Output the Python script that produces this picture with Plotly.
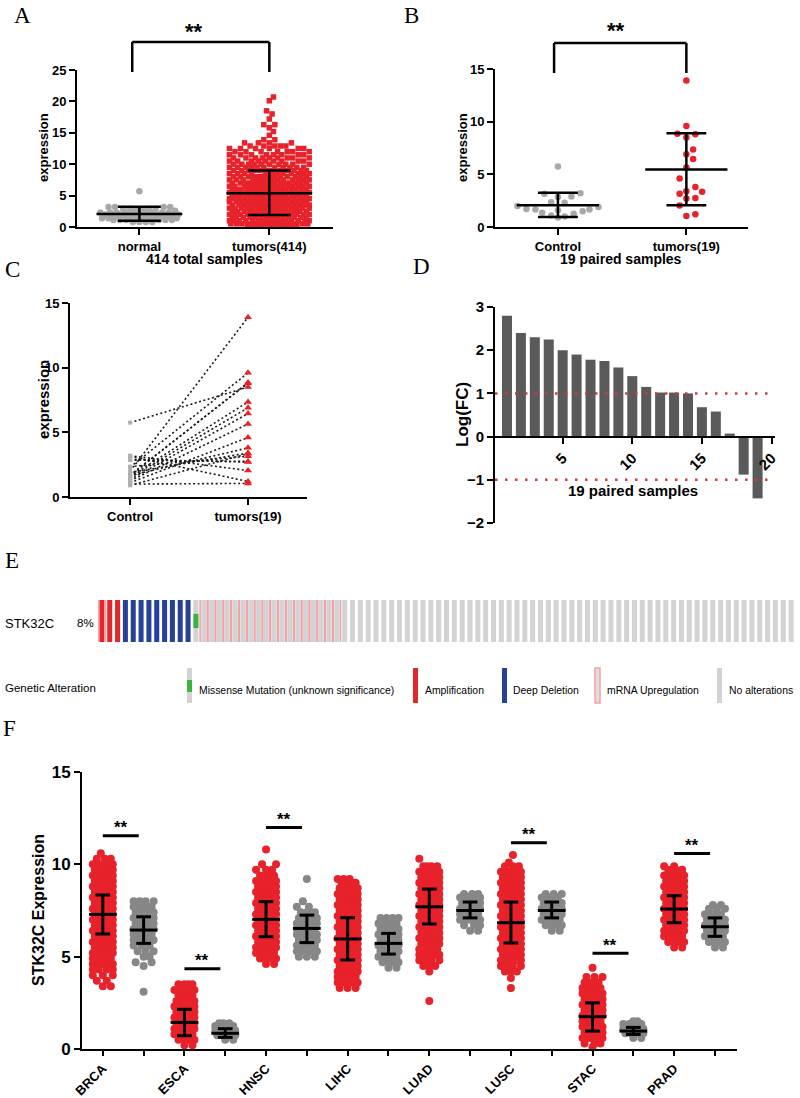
import numpy as np
import plotly.graph_objects as go

W, H = 800, 1098
SANS = "Liberation Sans, Arial, Helvetica, sans-serif"
SERIF = "Liberation Serif, Times New Roman, serif"
RED = "#e8222a"
GRAY_A = "#a8a8a8"
GRAY_F = "#878787"
BAR_D = "#5a5a5a"

# ======================= DATA =======================
# Panel A : 414 total samples
A_CATS = ["normal", "tumors(414)"]
A_NORMAL_LEVELS = [0.8, 1.1, 1.4, 1.7, 2.0, 2.3, 2.6, 2.9, 3.2, 5.7]
A_NORMAL_COUNTS = [4, 6, 8, 10, 12, 10, 6, 4, 4, 1]
A_TUMOR_LEVELS = [0.2, 0.5, 1.0, 1.5, 2.0, 2.5, 3.0, 3.5, 4.0, 4.5, 5.0, 5.5, 6.0,
                  6.5, 7.0, 7.5, 8.0, 8.5, 9.0, 9.5, 10.0, 10.5, 11.0, 11.5, 12.0,
                  12.5, 12.9, 13.4, 13.9, 14.6, 15.2, 15.8, 16.3, 17.2, 18.0, 18.5,
                  20.1, 20.7]
A_TUMOR_COUNTS = [10, 14, 15, 16, 16, 16, 17, 18, 18, 18, 18, 18, 18,
                  17, 16, 15, 14, 13, 12, 11, 10, 9, 9, 8, 7,
                  6, 5, 4, 2, 1, 1, 1, 2, 1, 1, 1,
                  1, 1]
A_CENTER = [2.07, 5.36]
A_LOW = [1.0, 1.91]
A_HIGH = [3.24, 8.99]

# Panels B & C : 19 paired samples
B_CATS = ["Control", "tumors(19)"]
PAIR_CONTROL = [2.0, 2.3, 1.65, 1.7, 5.75, 1.6, 1.5, 1.35, 1.25, 1.1,
                1.65, 1.9, 0.9, 2.35, 2.85, 2.9, 3.2, 3.15, 1.0]
PAIR_TUMOR = [13.9, 9.6, 8.85, 8.8, 8.5, 7.35, 6.9, 6.45, 5.65, 4.6,
              3.8, 3.4, 3.35, 3.15, 2.75, 2.7, 2.05, 1.2, 1.05]
B_CENTER = [2.07, 5.47]
B_LOW = [0.95, 2.07]
B_HIGH = [3.24, 8.9]

# Panel D : log fold change per pair
D_SAMPLE_IDX = [1, 2, 3, 4, 5, 6, 7, 8, 9, 10, 11, 12, 13, 14, 15, 16, 17, 18, 19]
D_LOGFC = [2.8, 2.4, 2.3, 2.25, 2.0, 1.9, 1.78, 1.75, 1.6, 1.4,
           1.15, 1.02, 1.02, 1.0, 0.68, 0.58, 0.07, -0.88, -1.43]
D_THRESH = [1, -1]

# Panel E : oncoprint STK32C
E_STATUS = ["amp_up", "amp", "del", "missense", "up", "none"]
E_STATUS_COUNTS = [1, 2, 9, 1, 18, 58]
E_LEGEND = ["Missense Mutation (unknown significance)", "Amplification",
            "Deep Deletion", "mRNA Upregulation", "No alterations"]

# Panel F : STK32C expression across cancers (tumor, normal)
F_CANCERS = ["BRCA", "ESCA", "HNSC", "LIHC", "LUAD", "LUSC", "STAC", "PRAD"]
F_BRCA_TUM_LV = [3.4, 3.7, 4.0, 4.3, 4.6, 4.9, 5.2, 5.5, 5.8, 6.1, 6.4, 6.7, 7.0,
                 7.3, 7.6, 7.9, 8.2, 8.5, 8.8, 9.1, 9.4, 9.7, 10.0, 10.3, 10.6]
F_BRCA_TUM_CT = [2, 2, 3, 4, 5, 6, 6, 6, 6, 6, 6, 6, 6, 6, 6, 6, 6, 6, 6, 6, 6, 6, 5, 3, 1]
F_BRCA_NOR_LV = [3.1, 4.5, 4.7, 5.0, 5.3, 5.6, 5.9, 6.2, 6.5, 6.8, 7.1, 7.4, 7.7, 8.0]
F_BRCA_NOR_CT = [1, 1, 2, 2, 3, 4, 5, 6, 6, 6, 6, 5, 5, 4]
F_ESCA_TUM_LV = [0.2, 0.5, 0.8, 1.1, 1.4, 1.7, 2.0, 2.3, 2.6, 2.9, 3.2, 3.5]
F_ESCA_TUM_CT = [2, 4, 6, 6, 6, 6, 6, 6, 5, 4, 5, 4]
F_ESCA_NOR_LV = [0.5, 0.75, 1.0, 1.25, 1.4]
F_ESCA_NOR_CT = [2, 4, 5, 5, 3]
F_HNSC_TUM_LV = [4.6, 4.9, 5.2, 5.5, 5.8, 6.1, 6.4, 6.7, 7.0, 7.3, 7.6, 7.9, 8.2,
                 8.5, 8.8, 9.1, 9.4, 9.7, 10.0, 10.8]
F_HNSC_TUM_CT = [2, 4, 6, 6, 6, 6, 6, 6, 6, 6, 6, 6, 6, 6, 6, 5, 4, 3, 2, 1]
F_HNSC_NOR_LV = [5.0, 5.3, 5.6, 5.9, 6.2, 6.5, 6.8, 7.1, 7.4, 7.7, 8.0, 9.2]
F_HNSC_NOR_CT = [3, 5, 5, 6, 6, 6, 6, 5, 4, 2, 1, 1]
F_LIHC_TUM_LV = [3.3, 3.6, 3.9, 4.2, 4.5, 4.8, 5.1, 5.4, 5.7, 6.0, 6.3, 6.6, 6.9,
                 7.2, 7.5, 7.8, 8.1, 8.4, 8.7, 9.0, 9.2]
F_LIHC_TUM_CT = [3, 5, 6, 6, 6, 6, 6, 6, 6, 6, 6, 6, 6, 6, 6, 6, 6, 6, 5, 4, 3]
F_LIHC_NOR_LV = [4.4, 4.7, 5.0, 5.3, 5.6, 5.9, 6.2, 6.5, 6.8, 7.1]
F_LIHC_NOR_CT = [2, 4, 5, 6, 6, 6, 6, 5, 5, 4]
F_LUAD_TUM_LV = [2.6, 4.2, 4.5, 4.8, 5.1, 5.4, 5.7, 6.0, 6.3, 6.6, 6.9, 7.2, 7.5,
                 7.8, 8.1, 8.4, 8.7, 9.0, 9.3, 9.6, 9.9, 10.3]
F_LUAD_TUM_CT = [1, 1, 3, 4, 5, 5, 6, 6, 6, 6, 6, 6, 6, 6, 6, 6, 6, 6, 6, 5, 4, 1]
F_LUAD_NOR_LV = [6.4, 6.7, 7.0, 7.3, 7.6, 7.9, 8.2, 8.4]
F_LUAD_NOR_CT = [2, 3, 5, 6, 6, 6, 5, 3]
F_LUSC_TUM_LV = [3.3, 3.85, 4.2, 4.5, 4.8, 5.1, 5.4, 5.7, 6.0, 6.3, 6.6, 6.9, 7.2,
                 7.5, 7.8, 8.1, 8.4, 8.7, 9.0, 9.3, 9.6, 9.9, 10.1, 10.5]
F_LUSC_TUM_CT = [1, 1, 3, 4, 6, 6, 6, 6, 6, 6, 6, 6, 6, 6, 6, 6, 6, 6, 6, 6, 5, 3, 1, 1]
F_LUSC_NOR_LV = [6.4, 6.7, 7.0, 7.3, 7.6, 7.9, 8.2, 8.4]
F_LUSC_NOR_CT = [2, 4, 5, 6, 6, 6, 4, 3]
F_STAC_TUM_LV = [0.1, 0.3, 0.6, 0.9, 1.2, 1.5, 1.8, 2.1, 2.4, 2.7, 3.0, 3.3, 3.6, 3.9, 4.4]
F_STAC_TUM_CT = [1, 3, 5, 6, 6, 6, 6, 6, 6, 6, 5, 5, 4, 3, 1]
F_STAC_NOR_LV = [0.6, 0.85, 1.1, 1.35, 1.5]
F_STAC_NOR_CT = [2, 4, 5, 4, 2]
F_PRAD_TUM_LV = [5.5, 5.8, 6.1, 6.4, 6.7, 7.0, 7.3, 7.6, 7.9, 8.2, 8.5, 8.8, 9.1, 9.4, 9.7, 9.9]
F_PRAD_TUM_CT = [2, 4, 6, 6, 6, 6, 6, 6, 6, 6, 6, 6, 6, 5, 4, 2]
F_PRAD_NOR_LV = [5.5, 5.8, 6.1, 6.4, 6.7, 7.0, 7.3, 7.6, 7.8]
F_PRAD_NOR_CT = [2, 4, 5, 6, 6, 6, 4, 3, 2]

F_TUM_CENTER = [7.29, 1.44, 7.02, 5.96, 7.7, 6.84, 1.75, 7.58]
F_TUM_LOW = [6.23, 0.72, 6.08, 4.82, 6.77, 5.74, 0.97, 6.84]
F_TUM_HIGH = [8.34, 2.15, 7.98, 7.11, 8.66, 7.96, 2.5, 8.3]
F_NOR_CENTER = [6.44, 0.85, 6.53, 5.72, 7.5, 7.5, 0.97, 6.62]
F_NOR_LOW = [5.72, 0.63, 5.76, 5.14, 7.1, 7.1, 0.79, 6.1]
F_NOR_HIGH = [7.16, 1.1, 7.25, 6.26, 7.96, 7.96, 1.17, 7.1]
F_SIG_Y = [11.55, 4.35, 12.0, None, None, 11.17, 5.18, 10.58]

F_TUM = [(F_BRCA_TUM_LV, F_BRCA_TUM_CT), (F_ESCA_TUM_LV, F_ESCA_TUM_CT),
         (F_HNSC_TUM_LV, F_HNSC_TUM_CT), (F_LIHC_TUM_LV, F_LIHC_TUM_CT),
         (F_LUAD_TUM_LV, F_LUAD_TUM_CT), (F_LUSC_TUM_LV, F_LUSC_TUM_CT),
         (F_STAC_TUM_LV, F_STAC_TUM_CT), (F_PRAD_TUM_LV, F_PRAD_TUM_CT)]
F_NOR = [(F_BRCA_NOR_LV, F_BRCA_NOR_CT), (F_ESCA_NOR_LV, F_ESCA_NOR_CT),
         (F_HNSC_NOR_LV, F_HNSC_NOR_CT), (F_LIHC_NOR_LV, F_LIHC_NOR_CT),
         (F_LUAD_NOR_LV, F_LUAD_NOR_CT), (F_LUSC_NOR_LV, F_LUSC_NOR_CT),
         (F_STAC_NOR_LV, F_STAC_NOR_CT), (F_PRAD_NOR_LV, F_PRAD_NOR_CT)]

# ======================= GEOMETRY (pixels) =======================
P = {
    "A": dict(l=77, r=333, t=70, b=227, xr=[-0.48, 1.49], yr=[0, 25], ax=""),
    "B": dict(l=495, r=748, t=69, b=227, xr=[-0.49, 1.48], yr=[0, 15], ax="2"),
    "C": dict(l=70, r=307, t=303, b=497, xr=[-0.51, 1.5], yr=[0, 15], ax="3"),
    "D": dict(l=495, r=775, t=307, b=523, xr=[0.14, 20.25], yr=[-2, 3], ax="4"),
    "E": dict(l=98, r=795, t=600, b=642, xr=[-0.5, 88.5], yr=[0, 1], ax="5"),
    "F": dict(l=82, r=737, t=772, b=1049, xr=[-0.51, 15.54], yr=[0, 15], ax="6"),
}


def dom(p):
    return [p["l"] / W, p["r"] / W], [1 - p["b"] / H, 1 - p["t"] / H]


def ppu(p):
    return ((p["r"] - p["l"]) / (p["xr"][1] - p["xr"][0]),
            (p["b"] - p["t"]) / (p["yr"][1] - p["yr"][0]))


def ydomfrac(p, py):
    return (p["b"] - py) / (p["b"] - p["t"])


def beeswarm(values, ppx, ppy, sep, max_half_px, row_bin=None):
    v = np.sort(np.asarray(values, dtype=float))
    ys = v * ppy
    if row_bin:
        ys = np.round(ys / row_bin) * row_bin
    step = sep / 4.0
    n_steps = int(max_half_px // step)
    cands = [0.0]
    for k in range(1, n_steps + 1):
        cands += [k * step, -k * step]
    cands = np.array(cands)
    px = np.zeros(len(v))
    for i, y in enumerate(ys):
        if i == 0:
            continue
        mask = np.abs(ys[:i] - y) < sep
        if not mask.any():
            continue
        nx = px[:i][mask]
        ny = ys[:i][mask]
        d = np.sqrt((cands[:, None] - nx[None, :]) ** 2 + (y - ny[None, :]) ** 2).min(axis=1)
        ok = np.where(d >= sep * 0.98)[0]
        px[i] = cands[ok[0]] if len(ok) else cands[int(np.argmax(d))]
    return v, px / ppx


def errbar_xy(xs, centers, lows, highs, half_mean, half_cap):
    X, Y = [], []
    for x, c, lo, hi in zip(xs, centers, lows, highs):
        X += [x - half_mean, x + half_mean, None, x, x, None,
              x - half_cap, x + half_cap, None, x - half_cap, x + half_cap, None]
        Y += [c, c, None, lo, hi, None, lo, lo, None, hi, hi, None]
    return X, Y


fig = go.Figure()


def swarm_trace(p, pos, levels, counts, diam, max_half, color, symbol="circle",
                row_bin=None, sep=None):
    ppx, ppy = ppu(p)
    vals = np.repeat(np.asarray(levels, float), counts)
    v, off = beeswarm(vals, ppx, ppy, sep or diam, max_half, row_bin)
    fig.add_trace(go.Scatter(
        x=pos + off, y=v, mode="markers", xaxis="x" + p["ax"], yaxis="y" + p["ax"],
        marker=dict(size=diam, color=color, symbol=symbol, line=dict(width=0)),
        cliponaxis=False, hoverinfo="skip"))


def stats_trace(p, xs, c, lo, hi, half_mean, half_cap, width):
    X, Y = errbar_xy(xs, c, lo, hi, half_mean, half_cap)
    fig.add_trace(go.Scatter(x=X, y=Y, mode="lines", xaxis="x" + p["ax"], yaxis="y" + p["ax"],
                             line=dict(color="black", width=width), hoverinfo="skip",
                             cliponaxis=False))


# ---------- Panel A ----------
pA = P["A"]
swarm_trace(pA, 0, A_NORMAL_LEVELS, A_NORMAL_COUNTS, 6.5, 40, GRAY_A, row_bin=5)
swarm_trace(pA, 1, A_TUMOR_LEVELS, A_TUMOR_COUNTS, 5.5, 40, RED, "square")
stats_trace(pA, [0, 1], A_CENTER, A_LOW, A_HIGH, 0.33, 0.165, 2.5)

# ---------- Panel B ----------
pB = P["B"]
swarm_trace(pB, 0, PAIR_CONTROL, [1] * len(PAIR_CONTROL), 6.5, 45, GRAY_A,
            row_bin=6.5, sep=9)
swarm_trace(pB, 1, PAIR_TUMOR, [1] * len(PAIR_TUMOR), 6.5, 45, RED, row_bin=6.5, sep=9)
stats_trace(pB, [0, 1], B_CENTER, B_LOW, B_HIGH, 0.32, 0.155, 2.5)

# ---------- Panel C ----------
pC = P["C"]
LX, LY = [], []
for c, t in zip(PAIR_CONTROL, PAIR_TUMOR):
    LX += [0, 1, None]
    LY += [c, t, None]
fig.add_trace(go.Scatter(x=LX, y=LY, mode="lines", xaxis="x3", yaxis="y3",
                         line=dict(color="#1a1a1a", width=1.6, dash="2px,2.5px"),
                         hoverinfo="skip"))
fig.add_trace(go.Scatter(x=[0] * len(PAIR_CONTROL), y=PAIR_CONTROL, mode="markers",
                         xaxis="x3", yaxis="y3", cliponaxis=False,
                         marker=dict(size=4, color="#b0b0b0", symbol="square"),
                         hoverinfo="skip"))
fig.add_trace(go.Scatter(x=[1] * len(PAIR_TUMOR), y=PAIR_TUMOR, mode="markers",
                         xaxis="x3", yaxis="y3", cliponaxis=False,
                         marker=dict(size=7, color=RED, symbol="triangle-up"),
                         hoverinfo="skip"))

# ---------- Panel D ----------
pD = P["D"]
fig.add_trace(go.Bar(x=D_SAMPLE_IDX, y=D_LOGFC, xaxis="x4", yaxis="y4", width=0.72,
                     marker=dict(color=BAR_D, line=dict(width=0)), hoverinfo="skip"))

# ---------- Panel E (oncoprint) ----------
statuses = []
for s, n in zip(E_STATUS, E_STATUS_COUNTS):
    statuses += [s] * n
idx = np.arange(len(statuses))
st = np.array(statuses)
ONC_GRAY = "#d3d3d3"
ONC_RED = "#e3262b"
ONC_BLUE = "#27409b"
ONC_GREEN = "#3cb43c"
ONC_PINK = "#f0a2a6"
gray_idx = idx[np.isin(st, ["missense", "up", "none"])]
amp_idx = idx[np.isin(st, ["amp", "amp_up"])]
del_idx = idx[st == "del"]
mis_idx = idx[st == "missense"]
up_idx = idx[np.isin(st, ["up", "amp_up"])]


def onc_bar(xs, color, width, base=0.0, height=1.0, line=None):
    fig.add_trace(go.Bar(
        x=xs, y=[height] * len(xs), base=[base] * len(xs), xaxis="x5", yaxis="y5",
        width=width, cliponaxis=False, hoverinfo="skip",
        marker=dict(color=color, line=line or dict(width=0))))


onc_bar(gray_idx, ONC_GRAY, 0.64)
onc_bar(amp_idx, ONC_RED, 0.64)
onc_bar(del_idx, ONC_BLUE, 0.64)
onc_bar(mis_idx, ONC_GREEN, 0.64, base=0.33, height=0.34)
onc_bar(up_idx, "rgba(255,255,255,0)", 0.92, base=-0.04, height=1.08,
        line=dict(color=ONC_PINK, width=1.6))

# ---------- Panel F ----------
pF = P["F"]
for i, cancer in enumerate(F_CANCERS):
    lv, ct = F_TUM[i]
    swarm_trace(pF, 2 * i, lv, ct, 8, 10, RED)
    lv, ct = F_NOR[i]
    swarm_trace(pF, 2 * i + 1, lv, ct, 8, 10, GRAY_F)
xt = [2 * i for i in range(len(F_CANCERS))]
xn = [2 * i + 1 for i in range(len(F_CANCERS))]
stats_trace(pF, xt, F_TUM_CENTER, F_TUM_LOW, F_TUM_HIGH, 0.34, 0.18, 3)
stats_trace(pF, xn, F_NOR_CENTER, F_NOR_LOW, F_NOR_HIGH, 0.34, 0.18, 3)
SX, SY = [], []
for i, y in enumerate(F_SIG_Y):
    if y is None:
        continue
    SX += [2 * i, 2 * i + 0.88, None]
    SY += [y, y, None]
fig.add_trace(go.Scatter(x=SX, y=SY, mode="lines", xaxis="x6", yaxis="y6",
                         line=dict(color="black", width=3), hoverinfo="skip"))

# ======================= LAYOUT =======================
annotations = []
shapes = []


def text(x, y, s, size, family=SANS, weight="bold", angle=0, xanchor="center",
         color="black"):
    annotations.append(dict(x=x / W, y=1 - y / H, xref="paper", yref="paper", text=s,
                            showarrow=False, textangle=angle, xanchor=xanchor,
                            yanchor="middle",
                            font=dict(family=family, size=size, color=color, weight=weight)))


def axis(p, which, **kw):
    xd, yd = dom(p)
    base = dict(showline=True, linecolor="black", linewidth=2, ticks="outside",
                ticklen=6, tickwidth=2, tickcolor="black", showgrid=False,
                zeroline=False, fixedrange=True, automargin=False)
    if which == "x":
        base.update(domain=xd, range=p["xr"])
    else:
        base.update(domain=yd, range=p["yr"])
    base.update(kw)
    return base


def tf(size):
    return dict(family=SANS, size=size, color="black", weight="bold")


layout_axes = {}
layout_axes["xaxis"] = axis(pA, "x", anchor="y", tickvals=[0, 1], ticktext=A_CATS, tickfont=tf(13))
layout_axes["yaxis"] = axis(pA, "y", anchor="x", dtick=5, tick0=0, tickfont=tf(13))
layout_axes["xaxis2"] = axis(pB, "x", anchor="y2", tickvals=[0, 1], ticktext=B_CATS, tickfont=tf(13))
layout_axes["yaxis2"] = axis(pB, "y", anchor="x2", dtick=5, tick0=0, tickfont=tf(13))
layout_axes["xaxis3"] = axis(pC, "x", anchor="y3", tickvals=[0, 1], ticktext=B_CATS, tickfont=tf(13))
layout_axes["yaxis3"] = axis(pC, "y", anchor="x3", dtick=5, tick0=0, tickfont=tf(13))
xdD, ydD = dom(pD)
zero_pos = ydD[0] + (0 - pD["yr"][0]) / (pD["yr"][1] - pD["yr"][0]) * (ydD[1] - ydD[0])
layout_axes["xaxis4"] = axis(pD, "x", anchor="free", position=zero_pos,
                             tickvals=[5, 10, 15, 20], tickangle=-45, tickfont=tf(15))
layout_axes["yaxis4"] = axis(pD, "y", anchor="x4", dtick=1, tick0=0, tickfont=tf(15))
pE = P["E"]
layout_axes["xaxis5"] = axis(pE, "x", anchor="y5", visible=False)
layout_axes["yaxis5"] = axis(pE, "y", anchor="x5", visible=False)
f_ticktext = []
for c in F_CANCERS:
    f_ticktext += [c, ""]
layout_axes["xaxis6"] = axis(pF, "x", anchor="y6", tickvals=list(range(16)),
                             ticktext=f_ticktext, tickangle=-45, tickfont=tf(13),
                             ticklen=5)
layout_axes["yaxis6"] = axis(pF, "y", anchor="x6", dtick=5, tick0=0, tickfont=tf(17))

# ---- brackets A & B ----
for p, xl, xr_, top, leg, star_x, xref in [(pA, -0.055, 1.0, 42, 72, 0.42, "x"),
                                           (pB, -0.03, 1.0, 43, 73, 0.45, "x2")]:
    yref = ("y" + p["ax"]) + " domain"
    yt = ydomfrac(p, top)
    yl = ydomfrac(p, leg)
    for (x0, y0, x1, y1) in [(xl, yt, xr_, yt), (xl, yt, xl, yl), (xr_, yt, xr_, yl)]:
        shapes.append(dict(type="line", xref=xref, yref=yref, x0=x0, x1=x1, y0=y0, y1=y1,
                           line=dict(color="black", width=2.5)))
    annotations.append(dict(x=star_x, y=ydomfrac(p, 31), xref=xref, yref=yref, text="**",
                            showarrow=False, xanchor="center", yanchor="middle",
                            font=dict(family=SANS, size=22, color="black", weight="bold")))

# ---- D threshold lines ----
for yv in D_THRESH:
    shapes.append(dict(type="line", xref="x4 domain", yref="y4", x0=0, x1=1, y0=yv, y1=yv,
                       line=dict(color="#e0343a", width=2.5, dash="2.5px,7.5px")))

# ---- F stars ----
for i, y in enumerate(F_SIG_Y):
    if y is None:
        continue
    annotations.append(dict(x=2 * i + 0.44, y=y + 0.45, xref="x6", yref="y6", text="**",
                            showarrow=False, xanchor="center", yanchor="middle",
                            font=dict(family=SANS, size=17, color="black", weight="bold")))

# ---- texts ----
text(22, 16, "A", 23, SERIF, "normal")
text(411, 15, "B", 23, SERIF, "normal")
text(12, 269, "C", 23, SERIF, "normal")
text(421, 267, "D", 23, SERIF, "normal")
text(12, 560, "E", 23, SERIF, "normal")
text(9, 728, "F", 23, SERIF, "normal")

text(43, 148, "expression", 13, angle=-90)
text(205, 259, "414 total samples", 14)
text(462, 148, "expression", 13, angle=-90)
text(621, 259, "19 paired samples", 14)
text(43, 400, "expression", 15, angle=-90)
text(463, 415, "Log(FC)", 17, angle=-90)
text(633, 490, "19 paired samples", 15)
text(38, 910, "STK32C Expression", 16, angle=-90)

# oncoprint labels
text(3, 623, "STK32C", 13, SANS, "normal", xanchor="left")
text(75, 623, "8%", 11.5, SANS, "normal", xanchor="left")
text(3, 688, "Genetic Alteration", 11.5, SANS, "normal", xanchor="left")

LEG_ICON_X = [187, 413, 502, 595, 717]
LEG_TEXT_X = [197, 423, 511, 605, 727]
LEG_TOP, LEG_BOT = 668, 703


def prect(x0, x1, y0, y1, fill, line_color=None, lw=0):
    shapes.append(dict(type="rect", xref="paper", yref="paper",
                       x0=x0 / W, x1=x1 / W, y0=1 - y1 / H, y1=1 - y0 / H,
                       fillcolor=fill, line=dict(color=line_color or fill, width=lw)))


prect(LEG_ICON_X[0], LEG_ICON_X[0] + 5, LEG_TOP, LEG_BOT, ONC_GRAY)
prect(LEG_ICON_X[0], LEG_ICON_X[0] + 5, 680, 692, ONC_GREEN)
prect(LEG_ICON_X[1], LEG_ICON_X[1] + 5, LEG_TOP, LEG_BOT, ONC_RED)
prect(LEG_ICON_X[2], LEG_ICON_X[2] + 5, LEG_TOP, LEG_BOT, ONC_BLUE)
prect(LEG_ICON_X[3], LEG_ICON_X[3] + 5, LEG_TOP, LEG_BOT, "#e6dada", ONC_PINK, 1.5)
prect(LEG_ICON_X[4], LEG_ICON_X[4] + 5, LEG_TOP, LEG_BOT, ONC_GRAY)
for lx, lab in zip(LEG_TEXT_X, E_LEGEND):
    text(lx, 690, lab, 10.4, SANS, "normal", xanchor="left")

fig.update_layout(
    width=W, height=H, margin=dict(l=0, r=0, t=0, b=0, autoexpand=False),
    paper_bgcolor="white", plot_bgcolor="white", showlegend=False,
    barmode="overlay", annotations=annotations, shapes=shapes,
    **layout_axes)

fig.write_html("out.html", config={"displayModeBar": False},
               post_script="document.body.style.margin='0px';")
